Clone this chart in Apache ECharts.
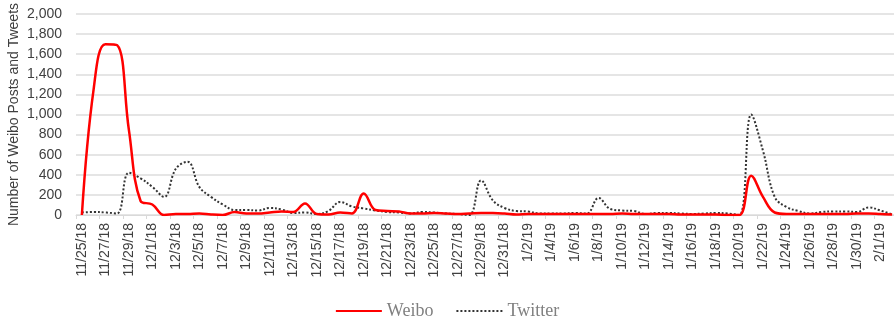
<!DOCTYPE html>
<html>
<head>
<meta charset="utf-8">
<script src="https://cdn.jsdelivr.net/npm/echarts@6/dist/echarts.min.js"></script>
<style>
  html, body { margin: 0; padding: 0; background: #fff; }
  #container { width: 894px; height: 316px; }
</style>
</head>
<body>
<div id="container"></div>
<script type="text/javascript">
// daily dates, 11/25/18 .. 2/2/19
var days = [
  '11/25/18','11/26/18','11/27/18','11/28/18','11/29/18','11/30/18',
  '12/1/18','12/2/18','12/3/18','12/4/18','12/5/18','12/6/18','12/7/18','12/8/18','12/9/18','12/10/18',
  '12/11/18','12/12/18','12/13/18','12/14/18','12/15/18','12/16/18','12/17/18','12/18/18','12/19/18','12/20/18',
  '12/21/18','12/22/18','12/23/18','12/24/18','12/25/18','12/26/18','12/27/18','12/28/18','12/29/18','12/30/18','12/31/18',
  '1/1/19','1/2/19','1/3/19','1/4/19','1/5/19','1/6/19','1/7/19','1/8/19','1/9/19','1/10/19',
  '1/11/19','1/12/19','1/13/19','1/14/19','1/15/19','1/16/19','1/17/19','1/18/19','1/19/19','1/20/19',
  '1/21/19','1/22/19','1/23/19','1/24/19','1/25/19','1/26/19','1/27/19','1/28/19','1/29/19','1/30/19','1/31/19',
  '2/1/19','2/2/19'
];

var weibo = [
  0, 1250, 1700, 1690, 850, 140, 105, 0, 10, 10, 15, 5, 0, 30, 15, 15,
  25, 35, 30, 115, 10, 5, 25, 15, 215, 50,
  40, 35, 15, 15, 20, 15, 10, 15, 20, 20, 15,
  5, 10, 10, 10, 10, 10, 10, 10, 10, 15,
  10, 10, 10, 10, 5, 5, 5, 5, 0, 0,
  390, 180, 25, 10, 10, 10, 10, 10, 10, 15, 15,
  10, 5
];

var twitter = [
  25, 30, 25, 15, 420, 365, 280, 180, 460, 530, 280, 180, 105, 50, 50, 45,
  70, 55, 20, 25, 10, 40, 130, 85, 65, 45,
  30, 25, 15, 30, 25, 15, 10, 0, 345, 145, 70,
  40, 35, 15, 15, 15, 20, 15, 170, 60, 45,
  40, 10, 20, 20, 15, 10, 15, 20, 15, 0,
  1000, 640, 180, 80, 40, 15, 30, 35, 35, 30, 75,
  45, 5
];

var yTicks = [0, 2000, 200];

var mychart = echarts.init(document.getElementById('container'));

var option = {
  animation: false,
  textStyle: { fontFamily: 'Liberation Sans, Arial, sans-serif' },
  grid: { left: 76, right: -4, top: 14, bottom: 101, containLabel: false, outerBoundsMode: 'none' },
  legend: {
    top: 297,
    left: 'center',
    itemWidth: 46,
    itemHeight: 10,
    itemGap: 22,
    data: ['Weibo', 'Twitter'],
    itemStyle: { opacity: 0 },
    textStyle: { fontFamily: 'Liberation Serif, Times New Roman, serif', fontSize: 18, color: '#808080' }
  },
  xAxis: {
    type: 'category',
    data: days,
    boundaryGap: true,
    axisLine: { lineStyle: { color: '#d9d9d9', width: 1 } },
    axisTick: { show: true, interval: 1, length: 4, lineStyle: { color: '#d9d9d9' } },
    axisLabel: { interval: 1, rotate: 90, fontSize: 14, color: '#404040', margin: 8 }
  },
  yAxis: {
    type: 'value',
    min: yTicks[0],
    max: yTicks[1],
    interval: yTicks[2],
    name: 'Number of Weibo Posts and Tweets',
    nameLocation: 'middle',
    nameGap: 55,
    nameMoveOverlap: false,
    nameTextStyle: { fontSize: 14, color: '#404040' },
    axisLine: { show: false },
    axisTick: { show: false },
    axisLabel: {
      fontSize: 14, color: '#404040', margin: 14,
      formatter: function (v) { return v.toLocaleString('en-US'); }
    },
    splitLine: { lineStyle: { color: '#dcdcdc', width: 1.5 } }
  },
  series: [
    {
      name: 'Weibo',
      type: 'line',
      data: weibo,
      smooth: 0.4,
      symbol: 'none',
      z: 3,
      itemStyle: { color: '#ff0000' },
      lineStyle: { color: '#ff0000', width: 2.5 }
    },
    {
      name: 'Twitter',
      type: 'line',
      data: twitter,
      smooth: 0.4,
      symbol: 'none',
      z: 2,
      itemStyle: { color: '#333333' },
      lineStyle: { color: '#333333', width: 2, type: [2, 2] }
    }
  ]
};

mychart.setOption(option);
</script>
</body>
</html>
